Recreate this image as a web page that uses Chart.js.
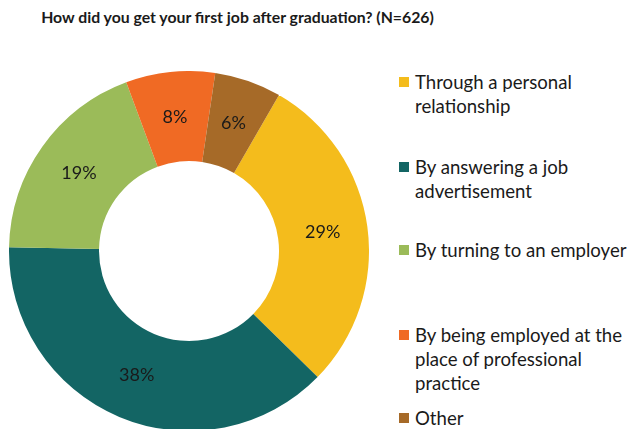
<!DOCTYPE html>
<html>
<head>
<meta charset="utf-8">
<script src="https://cdn.jsdelivr.net/npm/chart.js@4"></script>
<style>
  html, body { margin: 0; padding: 0; width: 629px; height: 429px; overflow: hidden; background: #fff; }
  body { position: relative; font-family: Lato, "Open Sans", sans-serif; color: #1a1a1a; }
  #title { position: absolute; left: 0; width: 475px; top: 6px; text-align: center; font-weight: bold; font-size: 15.8px; line-height: 22px; }
  #wrap { position: absolute; left: 9px; top: 71px; width: 360px; height: 360px; }
  #legend { position: absolute; left: 399px; top: 0; }
  .item { position: absolute; left: 0; white-space: nowrap; font-size: 18.6px; line-height: 24px; }
  .item .sw { position: absolute; left: 0; top: 7px; width: 10px; height: 10px; }
  .item .tx { position: absolute; left: 16px; top: 0; }
</style>
</head>
<body>
<div id="title">How did you get your first job after graduation? (N=626)</div>
<div id="wrap"><canvas id="c"></canvas></div>
<div id="legend"></div>
<script>
// Survey answers, clockwise from the slice starting at 30°
const categories = [
  ["Through a personal", "relationship"],
  ["By answering a job", "advertisement"],
  ["By turning to an employer"],
  ["By being employed at the", "place of professional", "practice"],
  ["Other"]
];
const shares = [29, 38, 19, 8, 6];
const colors = ["#F4BC1C", "#136564", "#9BBB59", "#F06A24", "#A66A28"];
const legendTops = [70, 155, 238, 323, 406];

// Legend built as HTML text
const legend = document.getElementById('legend');
categories.forEach((lines, i) => {
  const item = document.createElement('div');
  item.className = 'item';
  item.style.top = legendTops[i] + 'px';
  const sw = document.createElement('div');
  sw.className = 'sw';
  sw.style.background = colors[i];
  const tx = document.createElement('div');
  tx.className = 'tx';
  tx.innerHTML = lines.join('<br>');
  item.appendChild(sw);
  item.appendChild(tx);
  legend.appendChild(item);
});

// Percentage labels drawn at the middle of each arc
const sliceLabels = {
  id: 'sliceLabels',
  afterDatasetsDraw(chart) {
    const ctx = chart.ctx;
    const meta = chart.getDatasetMeta(0);
    ctx.save();
    ctx.font = '18px Lato, "Open Sans", sans-serif';
    ctx.fillStyle = '#1a1a1a';
    ctx.textAlign = 'center';
    ctx.textBaseline = 'middle';
    meta.data.forEach((arc, i) => {
      const p = arc.tooltipPosition();
      ctx.fillText(chart.data.datasets[0].data[i] + '%', p.x, p.y);
    });
    ctx.restore();
  }
};

new Chart(document.getElementById('c'), {
  type: 'doughnut',
  data: {
    labels: categories.map(l => l.join(' ')),
    datasets: [{
      data: shares,
      backgroundColor: colors,
      borderWidth: 0
    }]
  },
  options: {
    responsive: true,
    maintainAspectRatio: false,
    animation: false,
    rotation: 30,
    cutout: '50%',
    layout: { padding: 0 },
    plugins: {
      legend: { display: false },
      title: { display: false },
      tooltip: { enabled: false }
    }
  },
  plugins: [sliceLabels]
});
</script>
</body>
</html>
